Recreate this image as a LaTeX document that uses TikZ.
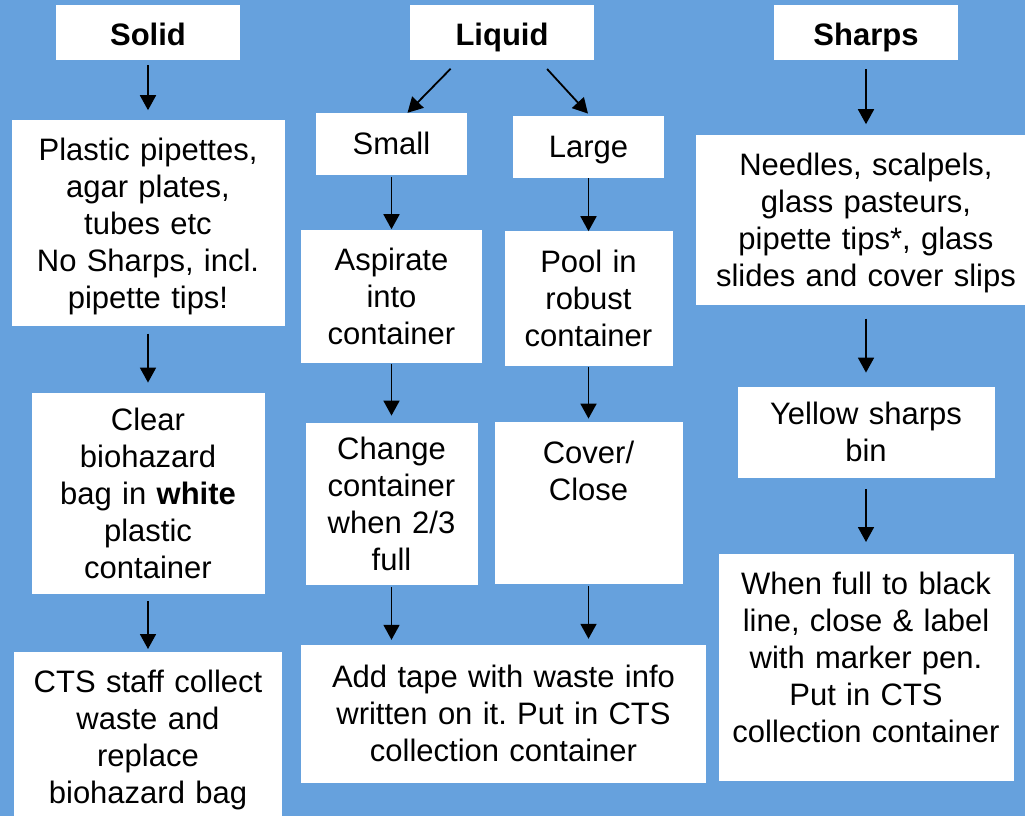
\documentclass[tikz,border=0pt]{standalone}
\usepackage{fontspec}
\setmainfont{Liberation Sans}
\usepackage{tikz}
\usetikzlibrary{positioning, arrows.meta, calc}

\definecolor{bgblue}{RGB}{102,161,221}
\newcommand{\boxfont}{\fontsize{31}{37}\selectfont\frenchspacing}
\newcommand{\linestrut}{\rule[-7.8pt]{0pt}{37pt}}

\begin{document}
\begin{tikzpicture}[x=1pt, y=-1pt,
  wbox/.style={fill=white, inner sep=0pt, align=center, font=\boxfont,
    execute at begin node=\linestrut, execute at end node=\linestrut},
  head/.style={fill=white, inner sep=0pt, align=center, text width=184pt, minimum height=55pt,
    font=\boxfont\bfseries, text height=31.7pt, text depth=5.3pt},
  flow/.style={-{Triangle[length=15pt, width=16pt]}, line width=1.8pt, shorten <=2pt, shorten >=3pt}
]
  \fill[bgblue] (0,0) rectangle (1025,816);
  \useasboundingbox (0,0) rectangle (1025,816);

  % solid waste
  \node[head] (solid) at (148,32.5) {Solid};
  \node[wbox, text width=273pt, minimum height=206pt, below=60pt of solid] (plastics) {Plastic pipettes,\\agar plates,\\tubes etc\\No Sharps, incl.\\pipette tips!};
  \node[wbox, text width=233pt, minimum height=201pt, below=66pt of plastics] (bag) {Clear\\biohazard\\bag in \textbf{white}\\plastic\\container};
  \node[wbox, text width=268pt, minimum height=171pt, below=58pt of bag] (staff) {CTS staff collect\\waste and\\replace\\biohazard bag};

  % liquid waste
  \node[head] (liquid) at (502,32.5) {Liquid};
  \node[wbox, text width=151pt, minimum height=62pt] (small) at (391.5,144) {Small};
  \node[wbox, text width=151pt, minimum height=62pt] (large) at (588.5,147) {Large};
  \node[wbox, text width=181pt, minimum height=133pt, below=55pt of small] (aspirate) {Aspirate\\into\\container};
  \node[wbox, text width=168pt, minimum height=135pt, below=53pt of large] (pool) {Pool in\\robust\\container};
  \node[wbox, text width=172pt, minimum height=162pt, below=59pt of aspirate] (change) {Change\\container\\when 2/3\\full};
  \node[wbox, text width=188pt, minimum height=162pt, below=55pt of pool] (cover) {Cover/\\Close\\~\\[-10pt]~};
  \node[wbox, text width=405pt, minimum height=138pt] (tape) at (503.5,714) {Add tape with waste info\\written on it. Put in CTS\\collection container};

  % sharps
  \node[head] (sharps) at (866,32.5) {Sharps};
  \node[wbox, text width=340pt, minimum height=170pt, below=75pt of sharps] (needles) {Needles, scalpels,\\glass pasteurs,\\pipette tips*, glass\\slides and cover slips};
  \node[wbox, text width=257pt, minimum height=91pt, below=81pt of needles] (bin) {Yellow sharps\\bin};
  \node[wbox, text width=295pt, minimum height=227pt, below=76pt of bin] (full) {When full to black\\line, close \& label\\with marker pen.\\Put in CTS\\collection container\\[-17pt]~};

  \draw[flow, shorten <=5pt, shorten >=10pt] (solid.south) -- (plastics.north);
  \draw[flow, shorten <=7pt, shorten >=10pt] (plastics.south) -- (bag.north);
  \draw[flow, shorten <=7pt] (bag.south) -- (staff.north);

  \draw[flow, shorten <=12pt, shorten >=0pt] ($(liquid.south)+(-43,0)$) -- ($(small.north)+(16,0)$);
  \draw[flow, shorten <=12pt] ($(liquid.south)+(37,0)$) -- ($(large.north)+(1.5,0)$);
  \draw[flow, shorten >=1pt] (small.south) -- (aspirate.north);
  \draw[flow, shorten <=0pt, shorten >=0pt] (large.south) -- (pool.north);
  \draw[flow, shorten <=0pt, shorten >=7pt] (aspirate.south) -- (change.north);
  \draw[flow, shorten <=0pt] (pool.south) -- (cover.north);
  \draw[flow, shorten >=5pt] (change.south) -- (change.south |- tape.north);
  \draw[flow, shorten >=6pt] (cover.south) -- (cover.south |- tape.north);

  \draw[flow, shorten <=9pt, shorten >=11pt] (sharps.south) -- (needles.north);
  \draw[flow, shorten <=13pt, shorten >=14pt] (needles.south) -- (bin.north);
  \draw[flow, shorten <=11pt, shorten >=12pt] (bin.south) -- (full.north);
\end{tikzpicture}
\end{document}
